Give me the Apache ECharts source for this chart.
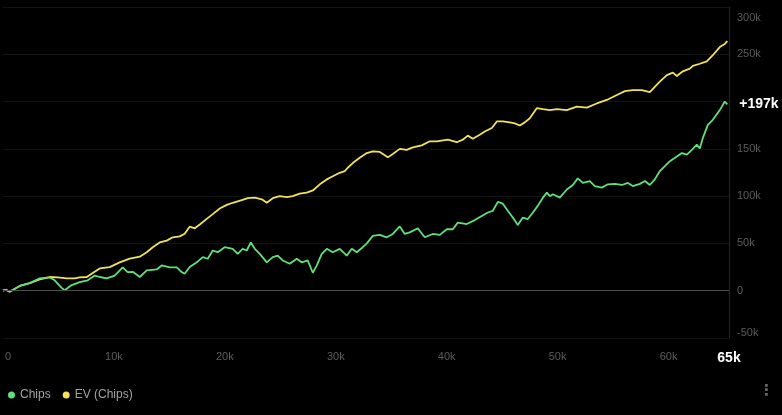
<!DOCTYPE html>
<html>
<head>
<meta charset="utf-8">
<script src="https://cdn.jsdelivr.net/npm/echarts@6/dist/echarts.min.js"></script>
<style>
html,body{margin:0;padding:0;background:#000;}
#c{width:782px;height:415px;}
</style>
</head>
<body>
<div id="c"></div>
<script>
// hands in thousands, values in thousands of chips
const chipsHands = [0,0.24,0.60,1.51,2.41,3.31,4.21,4.66,5.29,5.56,6.19,6.92,7.64,8.27,8.72,9.35,10.07,10.79,11.24,11.70,12.33,12.96,13.86,14.31,15.03,15.66,16.11,16.38,16.83,17.47,18.01,18.46,18.91,19.36,19.99,20.71,21.16,21.61,21.97,22.34,22.70,23.15,23.78,24.32,24.77,25.22,25.85,26.48,26.93,27.47,27.93,28.29,28.74,29.19,29.73,30.36,30.99,31.44,31.89,32.43,32.80,33.34,33.97,34.60,35.14,35.77,36.22,36.67,37.39,38.02,38.75,39.38,40.01,40.55,41.00,41.81,42.53,43.16,43.71,44.16,44.61,45.06,45.51,45.96,46.41,46.86,47.32,47.77,48.21,48.67,49.03,49.30,49.57,50.20,50.83,51.37,51.82,52.27,52.90,53.35,53.98,54.53,55.16,55.79,56.33,56.78,57.41,57.87,58.31,58.76,59.21,59.67,60.12,60.75,61.20,61.65,62.10,62.55,62.82,63.09,63.54,63.99,64.62,65.07,65.30];
const chipsValues = [0,1,-1,5,8,13,14,11,3,0.5,6,9,11,16,14.5,13,16,24.6,19.7,20,14.5,21.5,22.5,26.7,24.6,24.6,19.7,18,25,30,35.5,33.8,42.5,40.7,46,44.3,39,44.3,42.5,51,44.3,39,30,35.5,37,32,28.5,33.8,30,32,19,26.8,39,44.3,40.7,44.3,37,44.3,40.7,46,50,58,59,56.5,60,68,60,61.7,66,56.5,60,59,65,65,72,70.5,74.7,79,82.7,84.5,94,92,84.5,77.4,69.5,77.4,75.8,82.7,89.7,98.4,103.7,100,102,98.4,107,111.8,118.8,114,116,110.7,109,112.5,113,111.8,114,110.7,113,116,111.8,117.7,126.4,131.7,137,142,145.6,144,149,154.5,150.3,161.4,175.4,180.7,191,200,197];
const evHands = [0,0.24,0.60,1.51,2.41,3.31,4.21,4.93,5.74,6.47,6.92,7.55,8.09,8.72,9.62,10.52,11.42,12.33,12.96,13.50,14.13,14.76,15.30,15.93,16.38,16.83,17.29,17.74,18.37,18.91,19.54,20.17,20.71,21.52,22.06,22.70,23.33,23.78,24.32,24.95,25.58,26.12,26.75,27.38,27.93,28.56,29.19,29.73,30.36,30.81,31.08,31.53,32.16,32.80,33.34,33.97,34.69,35.14,35.77,36.40,36.94,37.75,38.48,39.11,40.10,40.91,41.45,41.90,42.35,42.98,43.43,44.07,44.52,45.06,45.69,46.14,46.59,47.04,47.49,48.12,48.67,49.30,49.93,50.83,51.73,52.63,53.53,54.43,55.34,56.06,56.78,57.59,58.31,58.76,59.21,59.85,60.39,60.75,61.29,61.92,62.19,62.82,63.45,63.99,64.62,65.07,65.30];
const evValues = [0,1,-1,5,8,12,14.5,14,13,13,14,14.5,18.7,23.6,25,30,34,36,40.7,46,51,53,56.5,57.5,60.3,67.7,66,70,76,81,87,90.8,93,95.7,98,98.5,96.7,93,97.8,100,99,100,102.6,103.7,106,112.5,117.7,121,124.7,126.4,130,135,140.5,145.6,147.4,146.7,141,144.6,150,149,151.6,153.7,158,158,159.7,157,159.7,164,160.7,165,168.4,172,179,179,178,177,174.7,178,182.4,193,192,191,192,191,194.6,193.6,198,201.7,207,211,212,212,210,215.6,221,228,230.6,227,232,234.8,237.7,240,242.6,249,257.6,261,264];
const seriesNames = ['Chips', 'EV (Chips)'];
const xMax = 65.45;
const yMin = -50, yMax = 300, yStep = 50, xStep = 10;

const chipsLast = chipsValues[chipsValues.length - 1];
const pairs = (xs, ys) => xs.map((x, i) => [x, ys[i]]);
const GREEN = '#5fe07a', YELLOW = '#f2e25a';
const FONT = '"Liberation Sans", Arial, Helvetica, sans-serif';

const chart = echarts.init(document.getElementById('c'), null, {renderer: 'canvas'});
chart.setOption({
  backgroundColor: '#000',
  animation: false,
  textStyle: {fontFamily: FONT},
  grid: {left: 3, right: 53, top: 7, bottom: 77, containLabel: false},
  legend: {
    data: seriesNames, left: 3, top: 384, icon: 'circle', itemWidth: 7, itemHeight: 7,
    itemGap: 12, textStyle: {color: '#a3a3a3', fontSize: 12, fontFamily: FONT}
  },
  xAxis: {
    type: 'value', min: 0, max: xMax, interval: xStep,
    axisLine: {show: false, onZero: false}, axisTick: {show: false}, splitLine: {show: false},
    axisLabel: {
      color: '#5c5c5c', fontSize: 11, margin: 13, fontFamily: FONT, showMaxLabel: true,
      formatter: v => {
        if (v === 0) return '{z|0}';
        if (Math.abs(v - xMax) < 1e-6) return '{m|' + Math.floor(v) + 'k}';
        return v + 'k';
      },
      rich: {
        z: {padding: [0, 0, 0, 10], color: '#5c5c5c', fontSize: 11, fontFamily: FONT},
        m: {color: '#ffffff', fontSize: 14, fontWeight: 'bold', fontFamily: FONT}
      }
    }
  },
  yAxis: {
    type: 'value', position: 'right', min: yMin, max: yMax, interval: yStep,
    axisLine: {show: true, onZero: false, lineStyle: {color: '#262626', width: 1}},
    axisTick: {show: false},
    splitLine: {show: true, lineStyle: {color: '#131313', width: 1}},
    axisLabel: {
      color: '#5c5c5c', fontSize: 11, margin: 8, fontFamily: FONT,
      formatter: v => {
        if (Math.abs(v - chipsLast) < 20) return '';
        if (v === 0) return '0';
        if (v === yMax) return '{t|' + v + 'k}';
        if (v === yMin) return '{n|' + v + 'k}';
        return v + 'k';
      },
      rich: {
        t: {padding: [22, 0, 0, 0], color: '#5c5c5c', fontSize: 11, fontFamily: FONT},
        n: {padding: [0, 0, 10, 0], color: '#5c5c5c', fontSize: 11, fontFamily: FONT}
      }
    }
  },
  series: [
    {
      name: seriesNames[1], type: 'line', data: pairs(evHands, evValues),
      showSymbol: false, symbol: 'circle', color: YELLOW,
      lineStyle: {color: YELLOW, width: 1.8}, z: 2
    },
    {
      name: seriesNames[0], type: 'line', data: pairs(chipsHands, chipsValues),
      showSymbol: false, symbol: 'circle', color: GREEN,
      lineStyle: {color: GREEN, width: 1.8}, z: 3,
      endLabel: {
        show: true, distance: 12, color: '#ffffff', fontSize: 14, fontWeight: 'bold', fontFamily: FONT,
        formatter: () => '+' + Math.round(chipsLast) + 'k'
      },
      markLine: {
        silent: true, symbol: 'none', label: {show: false},
        lineStyle: {color: '#4d4d4d', type: 'solid', width: 1},
        data: [{yAxis: 0}]
      }
    }
  ],
  graphic: [
    {type: 'text', right: 8, top: 384, style: {text: '⋮', fill: '#6a6a6a', fontSize: 15, fontWeight: 'bold', fontFamily: 'DejaVu Sans'}}
  ]
});
</script>
</body>
</html>
